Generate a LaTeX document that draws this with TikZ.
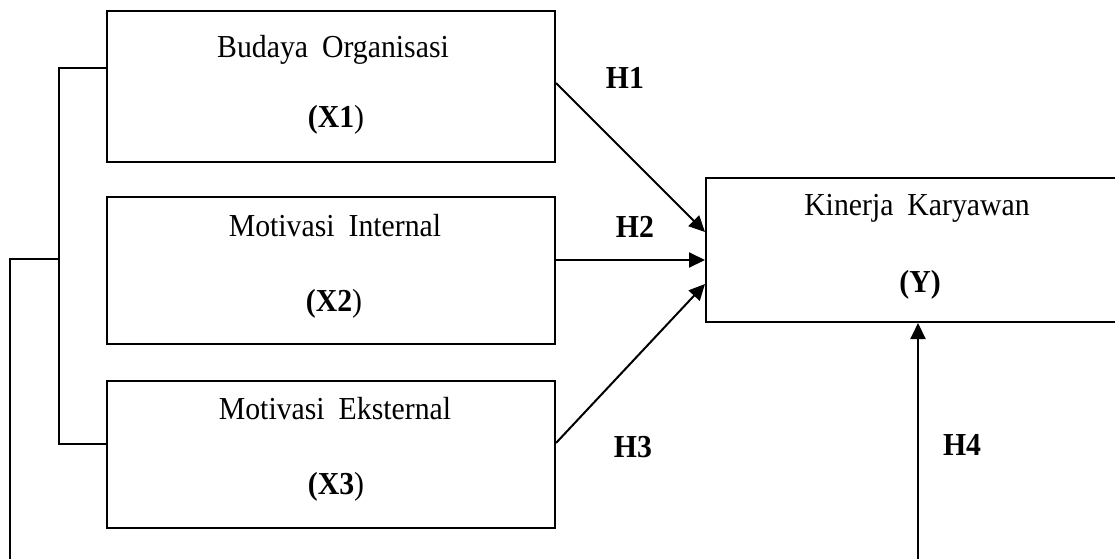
\documentclass[tikz,border=0pt]{standalone}
\usepackage{fontspec}
\setmainfont[FakeStretch=0.93]{Liberation Serif}
\usetikzlibrary{arrows.meta,calc}
\begin{document}
\begin{tikzpicture}[x=1pt,y=-1pt,
  box/.style={draw,line width=2pt,minimum width=448pt,minimum height=147pt,inner sep=0pt},
  txt/.style={font=\fontsize{32}{38}\selectfont,inner sep=0pt},
  hlab/.style={font=\fontsize{32}{38}\selectfont\bfseries,inner sep=0pt},
  conn/.style={line width=2pt},
  arr/.style={line width=2pt,-{Triangle[length=16pt,width=15pt]}}]
\useasboundingbox (0,0) rectangle (1115,558);
% boxes
\node[box,minimum height=151pt] (X1) at (331,86.5) {};
\node[box] (X2) at (331,270.5) {};
\node[box] (X3) at (331,454.5) {};
\node[box,minimum width=424pt,minimum height=144pt] (Y) at (918,250) {};
% texts
\node[txt] (t1) at (333,50) {Budaya\hspace{14pt}Organisasi};
\node[txt] (l1) at (336,120) {\textbf{(X1})};
\node[txt] (t2) at (335,226) {Motivasi\hspace{14pt}Internal};
\node[txt] (l2) at (334,304) {\textbf{(X2})};
\node[txt] (t3) at (335,409) {Motivasi\hspace{14pt}Eksternal};
\node[txt] (l3) at (336,487) {\textbf{(X3})};
\node[txt] (ty) at (917,208) {Kinerja\hspace{14pt}Karyawan};
\node[txt] (ly) at (920,285) {\textbf{(Y)}};
% hypothesis labels
\node[hlab] (H1) at (625,78) {H1};
\node[hlab] (H2) at (635,227) {H2};
\node[hlab] (H3) at (633,447) {H3};
\node[hlab] (H4) at (962,445) {H4};
% bracket on the left
\coordinate (b1) at ($(X1.west)+(0,-18.5)$);
\coordinate (b3) at ($(X3.west)+(0,-10.5)$);
\coordinate (bm) at (59,259);
\coordinate (lb) at (10,575);
\draw[conn] (b1) -- (59,68) -- (59,444) -- (b3);
\draw[conn] (bm) -- (10,259) -- (lb);
% arrows
\draw[arr] ($(X1.east)+(0,-3.5)$) -- ($(Y.west)+(0,-18)$);
\draw[arr] ($(X2.east)+(0,-10.5)$) -- ($(Y.west)+(0,10)$);
\draw[arr] ($(X3.east)+(0,-11.5)$) -- ($(Y.west)+(0,34)$);
\coordinate (h4s) at (918,575);
\draw[arr] (h4s) -- (Y.south);
\end{tikzpicture}
\end{document}
